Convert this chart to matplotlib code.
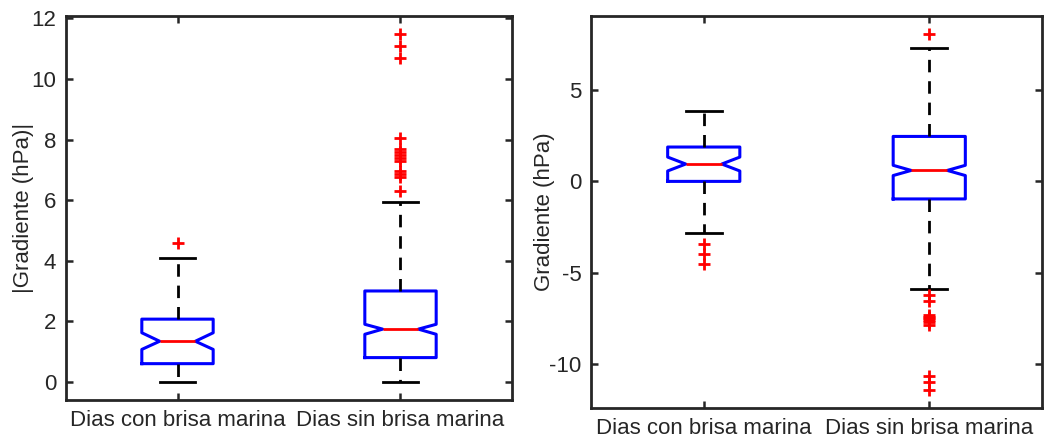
import matplotlib
matplotlib.use("Agg")
import matplotlib.pyplot as plt

plt.rcParams["font.family"] = ["Liberation Sans", "DejaVu Sans"]
plt.rcParams["axes.unicode_minus"] = False

CATS = ["Dias con brisa marina", "Dias sin brisa marina"]

# |Gradiente| (left panel): q1, median, q3, whiskers, notch interval, outliers
ABS_Q1 = [0.6, 0.8]
ABS_MED = [1.34, 1.74]
ABS_Q3 = [2.07, 3.0]
ABS_WLO = [0.0, 0.0]
ABS_WHI = [4.1, 5.95]
ABS_CILO = [1.07, 1.57]
ABS_CIHI = [1.62, 1.90]
ABS_OUT = [[4.6],
           [6.3, 6.75, 6.85, 6.95, 7.3, 7.4, 7.5, 7.6, 7.7, 8.05, 10.7, 11.1, 11.5]]

# Gradiente (right panel)
GR_Q1 = [0.0, -0.96]
GR_MED = [0.95, 0.6]
GR_Q3 = [1.88, 2.46]
GR_WLO = [-2.8, -5.88]
GR_WHI = [3.86, 7.29]
GR_CILO = [0.57, 0.32]
GR_CIHI = [1.33, 0.88]
GR_OUT = [[-3.45, -4.0, -4.5],
          [8.05, -6.2, -6.55, -7.3, -7.4, -7.5, -7.6, -7.7, -7.85, -10.65, -11.0, -11.4]]

SPINE = "#262626"


def stats(q1, med, q3, wlo, whi, cilo, cihi, out):
    return [dict(q1=q1[i], med=med[i], q3=q3[i], whislo=wlo[i], whishi=whi[i],
                 cilo=cilo[i], cihi=cihi[i], fliers=out[i], label=CATS[i])
            for i in range(len(CATS))]


def draw(ax, st, ylim, yticks, ylabel, label_x):
    ax.bxp(st, positions=[1, 2], widths=0.32, shownotches=True,
           boxprops=dict(color="#0000ff", lw=2.2),
           medianprops=dict(color="#ff0000", lw=2.0),
           whiskerprops=dict(color="black", lw=2.0, ls=(0, (4.5, 3.2))),
           capprops=dict(color="black", lw=2.0),
           flierprops=dict(marker="+", markeredgecolor="#ff0000", markersize=8,
                           markeredgewidth=2.0, ls="none"))
    ax.set_xlim(0.5, 2.5)
    ax.set_ylim(*ylim)
    ax.set_yticks(yticks)
    ax.set_xticks([1, 2])
    ax.set_xticklabels(CATS)
    ax.tick_params(direction="in", length=5, width=1.8, color=SPINE,
                   labelsize=16, labelcolor=SPINE, top=True, right=True, pad=7)
    for s in ax.spines.values():
        s.set_linewidth(2.0)
        s.set_color(SPINE)
    ax.set_ylabel(ylabel, fontsize=16, color=SPINE, va="center")
    ax.yaxis.set_label_coords(label_x, 0.5)


fig = plt.figure(figsize=(10.59, 4.45), dpi=100)
ax1 = fig.add_axes([66 / 1059, 45 / 445, 446 / 1059, 384 / 445])
ax2 = fig.add_axes([591 / 1059, 37 / 445, 451 / 1059, 392 / 445])

draw(ax1, stats(ABS_Q1, ABS_MED, ABS_Q3, ABS_WLO, ABS_WHI, ABS_CILO, ABS_CIHI, ABS_OUT),
     (-0.6, 12.08), [0, 2, 4, 6, 8, 10, 12], "|Gradiente (hPa)|", -0.096)
draw(ax2, stats(GR_Q1, GR_MED, GR_Q3, GR_WLO, GR_WHI, GR_CILO, GR_CIHI, GR_OUT),
     (-12.4, 9.05), [-10, -5, 0, 5], "Gradiente (hPa)", -0.102)

fig.savefig("out.png", dpi=100)
